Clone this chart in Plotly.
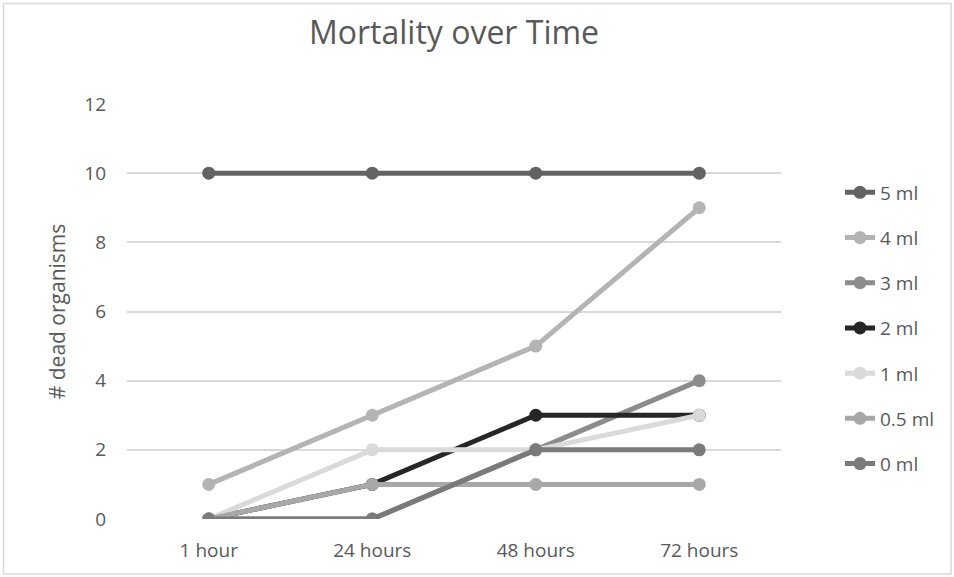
import plotly.graph_objects as go

categories = ["1 hour", "24 hours", "48 hours", "72 hours"]
series_names = ["5 ml", "4 ml", "3 ml", "2 ml", "1 ml", "0.5 ml", "0 ml"]
v_5ml = [10, 10, 10, 10]
v_4ml = [1, 3, 5, 9]
v_3ml = [0, 0, 2, 4]
v_2ml = [0, 1, 3, 3]
v_1ml = [0, 2, 2, 3]
v_05ml = [0, 1, 1, 1]
v_0ml = [0, 0, 2, 2]
series_values = [v_5ml, v_4ml, v_3ml, v_2ml, v_1ml, v_05ml, v_0ml]
colors = ["#636363", "#b4b4b4", "#8c8c8c", "#262626", "#dadada", "#a8a8a8", "#7a7a7a"]

W, H = 954, 577
L, R, T, B = 127, 173, 104, 58
pw, ph = W - L - R, H - T - B

fig = go.Figure()
for name, vals, c in zip(series_names, series_values, colors):
    fig.add_trace(go.Scatter(
        x=categories, y=vals, name=name, mode="lines+markers",
        line=dict(color=c, width=5),
        marker=dict(color=c, size=13, line=dict(width=0)),
        legendgroup=name,
    ))

font_family = "Open Sans, Liberation Sans, sans-serif"
txt = "#595959"

def px(x):
    return (x - L) / pw

def py(y):
    return (H - B - y) / ph

fig.update_layout(
    width=W, height=H,
    margin=dict(l=L, r=R, t=T, b=B),
    paper_bgcolor="white", plot_bgcolor="white",
    font=dict(family=font_family, color=txt, size=19),
    title=dict(text="Mortality over Time", x=0.5, xref="paper", xanchor="center",
               y=1 - 33 / H, yanchor="middle", yref="container",
               font=dict(size=32, color=txt, family=font_family)),
    xaxis=dict(type="category", range=[-0.5, 3.5], showgrid=False, zeroline=False,
               showline=False, ticks="", ticklabelstandoff=18,
               tickfont=dict(size=19, color=txt)),
    yaxis=dict(range=[0, 12], dtick=2, showgrid=True, gridcolor="#d9d9d9", gridwidth=1.5,
               zeroline=False, showline=False, ticks="", ticklabelstandoff=20,
               tickfont=dict(size=19, color=txt),
               title=dict(text="# dead organisms", font=dict(size=21, color=txt), standoff=12)),
    legend=dict(x=px(840), xanchor="left", y=py(173.5), yanchor="top",
                traceorder="grouped", tracegroupgap=17.5,
                font=dict(size=19, color=txt), bgcolor="rgba(0,0,0,0)"),
    showlegend=True,
    shapes=[dict(type="rect", xref="paper", yref="paper",
                 x0=px(3.5), x1=px(951), y0=py(3.5), y1=py(574),
                 line=dict(color="#d9d9d9", width=1.5), fillcolor="rgba(0,0,0,0)", layer="below")],
)

fig.write_html("out.html", config={"displayModeBar": False},
               post_script="document.body.style.margin='0';document.body.style.overflow='hidden';")
